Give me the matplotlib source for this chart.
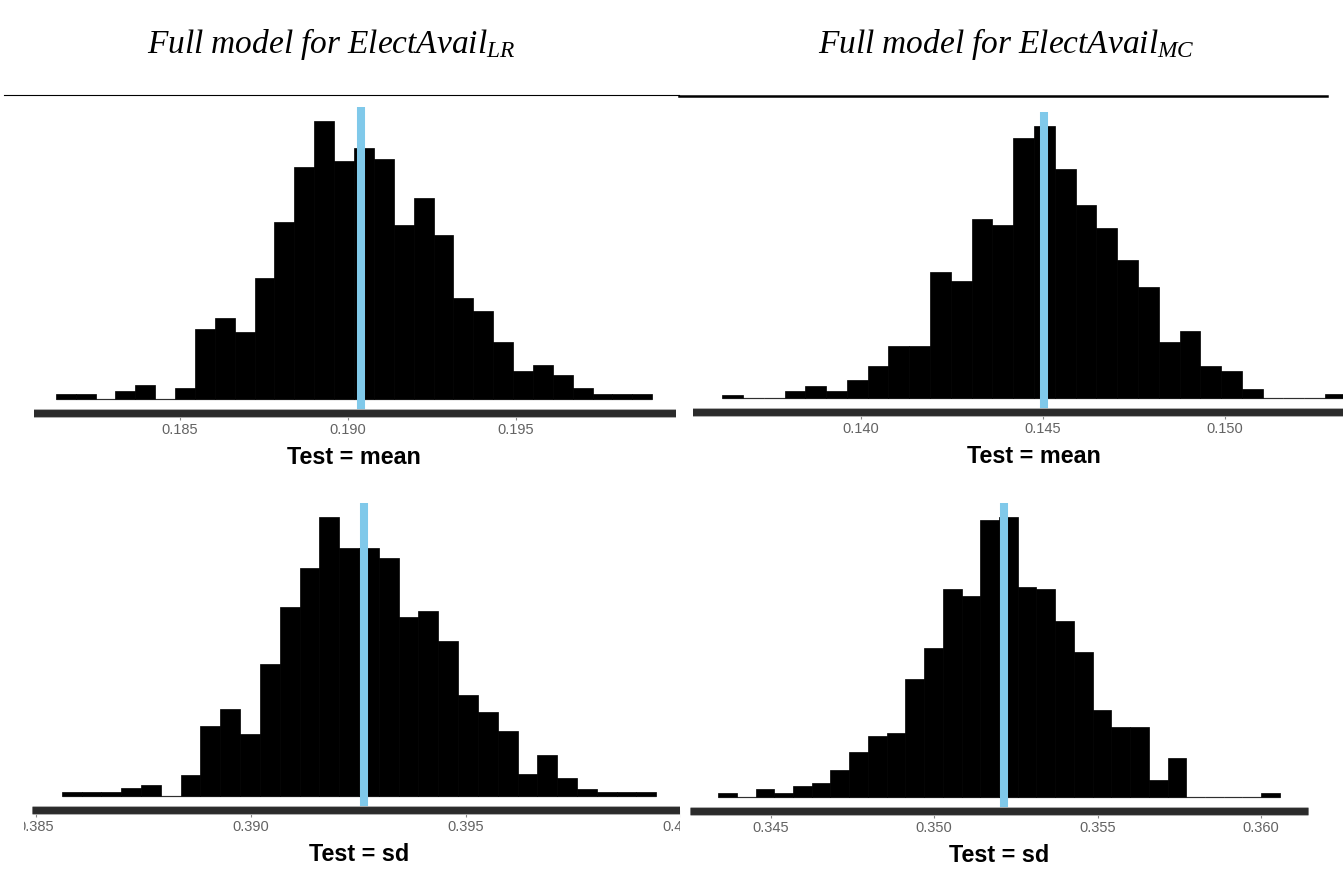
import matplotlib
matplotlib.use("Agg")
import matplotlib.pyplot as plt
import numpy as np
from matplotlib.lines import Line2D
from matplotlib.transforms import Bbox, TransformedBbox

plt.rcParams["font.family"] = ["Liberation Sans", "DejaVu Sans"]
plt.rcParams["mathtext.fontset"] = "custom"
plt.rcParams["mathtext.it"] = "Liberation Serif:italic"
plt.rcParams["mathtext.rm"] = "Liberation Serif"

# replicated test statistics, 30 bins per panel (range of the bins, counts, observed value)
mean_lr_range = (0.18131, 0.19905)
mean_lr_counts = [5, 5, 0, 8, 14, 0, 11, 71, 82, 68, 122, 179, 234, 281, 241,
                  254, 243, 176, 203, 166, 102, 89, 58, 28, 34, 24, 11, 5, 5, 5]
mean_lr_obs = 0.19039
mean_lr_ticks = [0.185, 0.190, 0.195]

mean_mc_range = (0.13618, 0.15332)
mean_mc_counts = [3, 0, 0, 7, 12, 7, 18, 33, 53, 53, 127, 118, 180, 174, 262,
                  274, 230, 194, 171, 139, 112, 57, 68, 33, 27, 9, 0, 0, 0, 4]
mean_mc_obs = 0.14503
mean_mc_ticks = [0.140, 0.145, 0.150]

sd_lr_range = (0.38560, 0.39942)
sd_lr_counts = [4, 4, 4, 8, 11, 0, 21, 71, 88, 62, 133, 190, 230, 281, 250,
                250, 240, 180, 186, 156, 102, 85, 65, 22, 41, 18, 7, 4, 4, 4]
sd_lr_obs = 0.39263
sd_lr_ticks = [0.385, 0.390, 0.395, 0.400]

sd_mc_range = (0.34339, 0.36058)
sd_mc_counts = [4, 0, 8, 4, 11, 14, 27, 45, 61, 64, 119, 150, 209, 202, 279,
                282, 211, 209, 177, 146, 88, 70, 70, 17, 39, 0, 0, 0, 0, 4]
sd_mc_obs = 0.35213
sd_mc_ticks = [0.345, 0.350, 0.355, 0.360]

titles = [r"$Full\ model\ for\ ElectAvail_{LR}$", r"$Full\ model\ for\ ElectAvail_{MC}$"]

W, H = 1343, 884
fig = plt.figure(figsize=(W / 100, H / 100), dpi=100)
fig.patch.set_facecolor("white")


def fig_box(x0, y0, x1, y1):
    # pixel box (top-left origin) -> figure fraction
    return [x0 / W, 1 - y1 / H, (x1 - x0) / W, (y1 - y0) / H]


def draw_panel(box, clip, rng, counts, obs, ticks, label):
    ax = fig.add_axes(fig_box(*box))
    lo, hi = rng
    edges = np.linspace(lo, hi, len(counts) + 1)
    centers = (edges[:-1] + edges[1:]) / 2
    ax.hlines(0, lo, hi, color="#9a9a9a", lw=1, zorder=1)
    ax.hist(centers, bins=edges, weights=counts, color="black",
            edgecolor="black", linewidth=0.5, zorder=2)
    ax.axvline(obs, color="#80c9ea", lw=5.8, solid_capstyle="butt", zorder=2.2)

    top = max(counts)
    ax.set_ylim(-0.05 * top, 1.05 * top)
    pad = 0.05 * (hi - lo)
    ax.set_xlim(lo - pad, hi + pad)
    ax.set_xticks(ticks)
    ax.set_xticklabels([f"{t:.3f}" for t in ticks])
    ax.set_yticks([])
    for side in ("top", "right", "left"):
        ax.spines[side].set_visible(False)
    sp = ax.spines["bottom"]
    sp.set_linewidth(5.0)
    sp.set_color("#2b2b2b")
    sp.set_capstyle("butt")
    sp.set_zorder(2.6)
    # soft grey rim around the axis line
    rim = ax.axhline(-0.05 * top, color="#a8a8a8", lw=6.4, solid_capstyle="butt", zorder=2.5)
    rim.set_clip_path(None)
    ax.tick_params(axis="x", length=5, width=0.8, color="#888888", pad=2.5,
                   labelsize=10.5, labelcolor="#636363")
    ax.patch.set_visible(False)

    ax.annotate(label, xy=(0.5, 0), xycoords="axes fraction", xytext=(0, -36.5),
                textcoords="offset points", ha="center", va="baseline",
                fontsize=16.8, fontweight="bold", color="black")

    # the panels are cut off at the edges of their cells
    cb = TransformedBbox(Bbox.from_extents(clip[0] / W, 1 - clip[3] / H,
                                           clip[2] / W, 1 - clip[1] / H),
                         fig.transFigure)
    for art in ax.get_children():
        art.set_clip_box(cb)
    for tick in ax.xaxis.get_major_ticks():
        tick.label1.set_clip_on(True)
        tick.label1.set_clip_box(cb)
        tick.tick1line.set_clip_box(cb)
    return ax


draw_panel((26, 107, 682, 413), (34, 100, 676, 480),
           mean_lr_range, mean_lr_counts, mean_lr_obs, mean_lr_ticks, "Test = mean")
draw_panel((691, 112, 1377, 412), (693, 100, 1343, 480),
           mean_mc_range, mean_mc_counts, mean_mc_obs, mean_mc_ticks, "Test = mean")
draw_panel((32, 503, 686, 810), (24, 490, 680, 884),
           sd_lr_range, sd_lr_counts, sd_lr_obs, sd_lr_ticks, "Test = sd")
draw_panel((690, 503, 1308, 811), (686, 490, 1343, 884),
           sd_mc_range, sd_mc_counts, sd_mc_obs, sd_mc_ticks, "Test = sd")

# column headings and the table rule below them
fig.text(331 / W, 1 - 53 / H, titles[0], ha="center", va="baseline", fontsize=24)
fig.text(1006 / W, 1 - 53 / H, titles[1], ha="center", va="baseline", fontsize=24)
fig.add_artist(Line2D([4 / W, 679 / W], [1 - 95 / H] * 2, transform=fig.transFigure,
                      color="black", lw=0.8))
fig.add_artist(Line2D([679 / W, 1327 / W], [1 - 95.5 / H] * 2, transform=fig.transFigure,
                      color="black", lw=1.8))

fig.savefig("out.png", dpi=100, facecolor="white")
